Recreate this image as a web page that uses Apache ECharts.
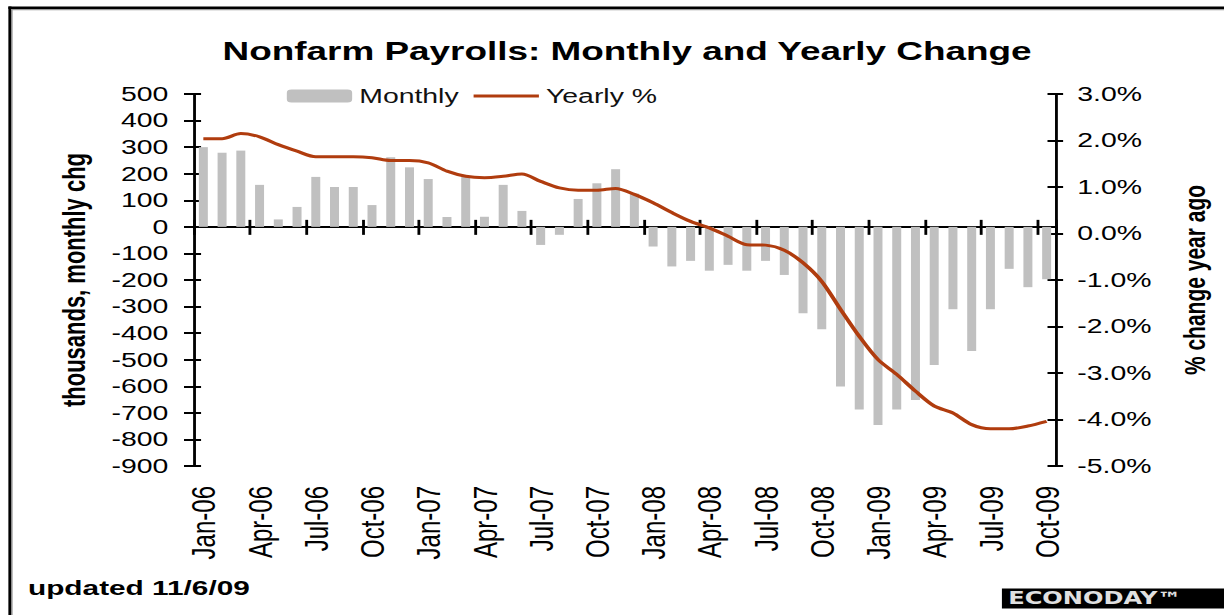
<!DOCTYPE html>
<html>
<head>
<meta charset="utf-8">
<script src="https://cdn.jsdelivr.net/npm/echarts@6/dist/echarts.min.js"></script>
<style>
html,body{margin:0;padding:0;background:#fff;overflow:hidden;width:1224px;height:615px;}
#wrap{width:1224px;height:615px;overflow:hidden;position:relative;}
#chart{width:862px;height:615px;transform:scaleX(1.41995);transform-origin:0 0;position:absolute;left:0;top:0;}
</style>
</head>
<body>
<div id="wrap"><div id="chart"></div></div>
<script>
const categories = [
  'Jan-06','Feb-06','Mar-06','Apr-06','May-06','Jun-06','Jul-06','Aug-06','Sep-06','Oct-06','Nov-06','Dec-06',
  'Jan-07','Feb-07','Mar-07','Apr-07','May-07','Jun-07','Jul-07','Aug-07','Sep-07','Oct-07','Nov-07','Dec-07',
  'Jan-08','Feb-08','Mar-08','Apr-08','May-08','Jun-08','Jul-08','Aug-08','Sep-08','Oct-08','Nov-08','Dec-08',
  'Jan-09','Feb-09','Mar-09','Apr-09','May-09','Jun-09','Jul-09','Aug-09','Sep-09','Oct-09'
];
const monthly = [
  300, 279, 287, 158, 28, 75, 188, 150, 150, 82, 262, 224,
  180, 37, 189, 38, 158, 60, -68, -30, 105, 164, 217, 125,
  -74, -149, -128, -165, -143, -165, -128, -181, -325, -385, -601, -687,
  -746, -687, -652, -520, -310, -467, -310, -158, -227, -197
];
const yearlyPct = [
  2.04, 2.04, 2.15, 2.08, 1.91, 1.77, 1.65, 1.65, 1.65, 1.63, 1.57, 1.57,
  1.52, 1.34, 1.23, 1.20, 1.23, 1.28, 1.12, 0.98, 0.93, 0.93, 0.97, 0.84,
  0.66, 0.45, 0.26, 0.12, -0.06, -0.24, -0.25, -0.36, -0.63, -1.03, -1.63, -2.21,
  -2.71, -3.03, -3.39, -3.71, -3.86, -4.11, -4.20, -4.20, -4.14, -4.04
];
const leftTicks = { min: -900, max: 500, interval: 100 };
const rightTicks = { min: -5, max: 3, interval: 1 };

const FONT = "'Liberation Sans', Arial, sans-serif";
const LINE_COLOR = '#b03c0e';
const chart = echarts.init(document.getElementById('chart'), null, { renderer: 'svg', width: 862, height: 615 });

const tickStyle = { color: '#000', width: 2 };
const option = {
  animation: false,
  backgroundColor: '#fff',
  title: {
    text: 'Nonfarm Payrolls: Monthly and Yearly Change',
    left: 436.6, top: 33, textAlign: 'center',
    textStyle: { fontFamily: FONT, fontSize: 26, fontWeight: 'bold', color: '#000' }
  },
  legend: {
    data: [
      { name: 'Monthly' },
      { name: 'Yearly %', itemStyle: { opacity: 0 }, lineStyle: { color: LINE_COLOR, width: 3 } }
    ],
    left: 197, top: 81,
    itemWidth: 46, itemHeight: 13, itemGap: 9,
    textStyle: { fontFamily: FONT, fontSize: 20, color: '#111' }
  },
  grid: { left: 136.6, right: 118.3, top: 94, bottom: 149, containLabel: false },
  xAxis: [
    {
      type: 'category', data: categories, position: 'bottom',
      axisLine: { onZero: true, onZeroAxisIndex: 0, lineStyle: { color: '#000', width: 2 } },
      axisTick: { show: true, interval: 2, length: 8, lineStyle: tickStyle },
      axisLabel: { show: false }, splitLine: { show: false }
    },
    {
      type: 'category', data: categories, position: 'bottom',
      axisLine: { show: false, onZero: false },
      axisTick: { show: false },
      axisLabel: { show: true, interval: 2, rotate: 90, margin: 20, fontFamily: FONT, fontSize: 24, color: '#000' },
      splitLine: { show: false }
    },
    {
      type: 'category', data: categories, position: 'bottom',
      axisLine: { show: false, onZero: true, onZeroAxisIndex: 0 },
      axisTick: { show: true, inside: true, interval: 2, length: 7, lineStyle: tickStyle },
      axisLabel: { show: false }, splitLine: { show: false }
    }
  ],
  yAxis: [
    {
      type: 'value', position: 'left', min: leftTicks.min, max: leftTicks.max, interval: leftTicks.interval,
      name: 'thousands, monthly chg', nameLocation: 'middle', nameGap: 73, nameRotate: 90,
      nameTextStyle: { fontFamily: FONT, fontSize: 22, fontWeight: 'bold', color: '#000' },
      axisLine: { show: true, onZero: false, lineStyle: { color: '#000', width: 2 } },
      axisTick: { show: true, length: 7, lineStyle: tickStyle },
      axisLabel: { margin: 18, fontFamily: FONT, fontSize: 20, color: '#000' },
      splitLine: { show: false }
    },
    {
      type: 'value', position: 'right', min: rightTicks.min, max: rightTicks.max, interval: rightTicks.interval,
      name: '% change year ago', nameLocation: 'middle', nameGap: 87, nameRotate: 90,
      nameTextStyle: { fontFamily: FONT, fontSize: 21, fontWeight: 'bold', color: '#000' },
      axisLine: { show: true, onZero: false, lineStyle: { color: '#000', width: 2 } },
      axisTick: { show: true, length: 5, lineStyle: tickStyle },
      axisLabel: { margin: 15, fontFamily: FONT, fontSize: 20, color: '#000', formatter: v => v.toFixed(1) + '%' },
      splitLine: { show: false }
    },
    {
      type: 'value', position: 'left', min: leftTicks.min, max: leftTicks.max, interval: leftTicks.interval,
      axisLine: { show: false, onZero: false },
      axisTick: { show: true, inside: true, length: 5, lineStyle: tickStyle },
      axisLabel: { show: false }, splitLine: { show: false }
    },
    {
      type: 'value', position: 'right', min: rightTicks.min, max: rightTicks.max, interval: rightTicks.interval,
      axisLine: { show: false, onZero: false },
      axisTick: { show: true, inside: true, length: 6, lineStyle: tickStyle },
      axisLabel: { show: false }, splitLine: { show: false }
    }
  ],
  series: [
    {
      name: 'Monthly', type: 'bar', xAxisIndex: 0, yAxisIndex: 0,
      data: monthly, barWidth: '48%',
      itemStyle: { color: '#c0c0c0' }, z: 1
    },
    {
      name: 'Yearly %', type: 'line', xAxisIndex: 0, yAxisIndex: 1,
      data: yearlyPct, symbol: 'none', smooth: 0.3,
      lineStyle: { color: LINE_COLOR, width: 3 }, itemStyle: { color: LINE_COLOR }, z: 3
    }
  ],
  graphic: [
    { type: 'rect', shape: { x: 5.9, y: 6.5, width: 2.2, height: 620 }, style: { fill: '#000' }, silent: true },
    { type: 'rect', shape: { x: 8.1, y: 9, width: 0.8, height: 620 }, style: { fill: '#999' }, silent: true },
    { type: 'rect', shape: { x: 5.9, y: 6.5, width: 870, height: 2.6 }, style: { fill: '#000' }, silent: true },
    { type: 'rect', shape: { x: 8.1, y: 9.1, width: 870, height: 1.2 }, style: { fill: '#999' }, silent: true },
    { type: 'text', style: { text: 'updated 11/6/09', x: 19.7, y: 588, fill: '#000', font: 'bold 21px ' + FONT, verticalAlign: 'middle', textVerticalAlign: 'middle' } },
    { type: 'rect', shape: { x: 705.6, y: 588.5, width: 170, height: 20 }, style: { fill: '#000' }, silent: true },
    { type: 'text', style: { text: 'ECONODAY™', x: 710, y: 598.5, fill: '#e0e0e0', font: "bold 17px 'DejaVu Sans', sans-serif", verticalAlign: 'middle', textVerticalAlign: 'middle' } }
  ]
};
chart.setOption(option);
</script>
</body>
</html>
